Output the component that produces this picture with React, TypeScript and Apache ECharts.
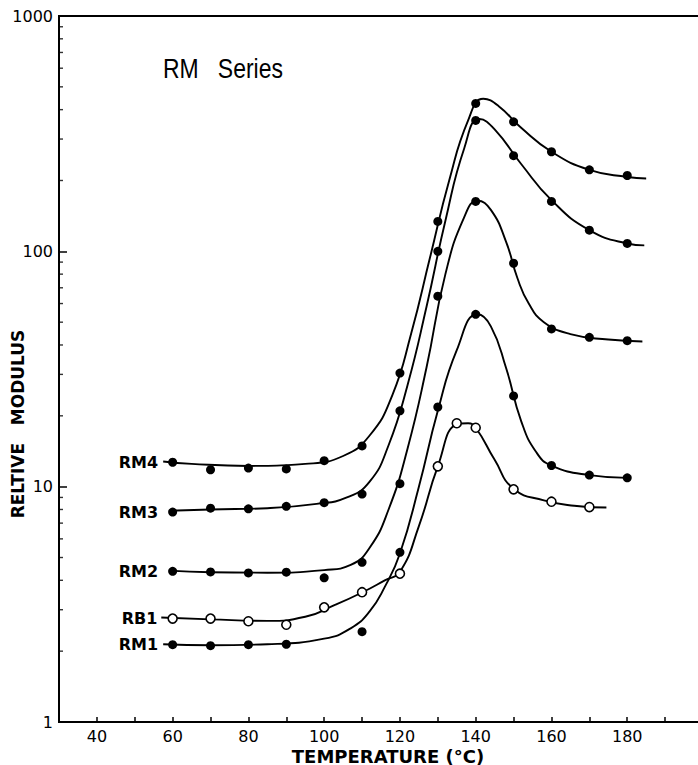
import React, { useEffect, useRef } from "react";
import * as echarts from "echarts";

// ---- data ----
const X_MIN = 30;
const X_MAX = 200;
const Y_MIN = 1;
const Y_MAX = 1000;
const X_LABELS = [40, 60, 80, 100, 120, 140, 160, 180];
const Y_MINOR_TICKS = [2, 3, 4, 5, 6, 7, 8, 9, 20, 30, 40, 50, 60, 70, 80, 90, 200, 300, 400, 500, 600, 700, 800, 900];

const RM4_T = [60, 70, 80, 90, 100, 110, 120, 130, 140, 150, 160, 170, 180];
const RM4_V = [12.7, 11.8, 12.0, 11.9, 12.9, 14.9, 30.4, 134, 425, 355, 265, 222, 210];
const RM3_T = [60, 70, 80, 90, 100, 110, 120, 130, 140, 150, 160, 170, 180];
const RM3_V = [7.8, 8.1, 8.05, 8.25, 8.55, 9.3, 21, 100, 360, 255, 163, 123, 108];
const RM2_T = [60, 70, 80, 90, 100, 110, 120, 130, 140, 150, 160, 170, 180];
const RM2_V = [4.37, 4.34, 4.3, 4.33, 4.1, 4.77, 10.3, 64.5, 163, 89, 46.8, 43.1, 41.7];
const RB1_T = [60, 70, 80, 90, 100, 110, 120, 130, 135, 140, 150, 160, 170];
const RB1_V = [2.75, 2.75, 2.68, 2.59, 3.07, 3.56, 4.27, 12.2, 18.6, 17.8, 9.74, 8.63, 8.19];
const RM1_T = [60, 70, 80, 90, 110, 120, 130, 140, 150, 160, 170, 180];
const RM1_V = [2.13, 2.11, 2.13, 2.14, 2.42, 5.26, 21.8, 54, 24.3, 12.3, 11.2, 10.9];

// hand-drawn smooth curves (temperature, modulus)
const RM4_CURVE = [
  [57.5, 12.8], [65, 12.5], [80, 12.25], [95, 12.5], [105, 13.5], [112, 16.5], [118, 24.5], [123, 45],
  [128, 95], [133, 200], [138, 360], [142, 445], [146, 415], [152, 335], [160, 265], [170, 222],
  [180, 207], [185, 204],
];
const RM3_CURVE = [
  [59, 7.9], [70, 8.0], [85, 8.1], [98, 8.45], [106, 9.0], [112, 10.5], [117, 15], [122, 27],
  [127, 58], [132, 135], [137, 275], [141, 365], [145, 330], [152, 235], [160, 165], [170, 123],
  [180, 108], [184.5, 106],
];
const RM2_CURVE = [
  [59, 4.4], [70, 4.33], [85, 4.31], [100, 4.42], [107, 4.65], [112, 5.5], [117, 8], [122, 14.5],
  [127, 32], [132, 80], [137, 140], [140.5, 164], [144, 150], [148, 110], [151, 77], [154, 60],
  [158, 50], [165, 44.5], [175, 42.2], [184, 41.4],
];
const RB1_CURVE = [
  [57, 2.78], [70, 2.73], [85, 2.69], [95, 2.8], [103, 3.15], [110, 3.55], [116, 4.0], [120, 4.35],
  [125, 6.8], [130, 12.2], [135, 18.4], [138, 18.6], [140, 17.8], [145, 13], [150, 9.8], [158, 8.75],
  [166, 8.3], [174.5, 8.15],
];
const RM1_CURVE = [
  [57.5, 2.14], [70, 2.12], [85, 2.14], [100, 2.26], [107, 2.5], [112, 2.95], [116, 3.75], [120, 5.2],
  [125, 10], [130, 21], [135, 38], [140.5, 54], [144, 48], [148, 32], [152, 19], [156, 14], [160, 12.3],
  [170, 11.2], [180, 10.9],
];

const SERIES = [
  { name: "RM4", t: RM4_T, v: RM4_V, curve: RM4_CURVE, open: false },
  { name: "RM3", t: RM3_T, v: RM3_V, curve: RM3_CURVE, open: false },
  { name: "RM2", t: RM2_T, v: RM2_V, curve: RM2_CURVE, open: false },
  { name: "RB1", t: RB1_T, v: RB1_V, curve: RB1_CURVE, open: true },
  { name: "RM1", t: RM1_T, v: RM1_V, curve: RM1_CURVE, open: false },
];

const TICK_FONT = "DejaVu Sans";

function buildOption() {
  const series: any[] = [];
  SERIES.forEach((s) => {
    series.push({
      type: "line",
      name: s.name + " curve",
      data: s.curve,
      showSymbol: false,
      symbol: "none",
      smooth: 0.5,
      lineStyle: { color: "#000", width: 1.9 },
      silent: true,
      z: 2,
    });
    series.push({
      type: "scatter",
      name: s.name,
      data: s.t.map((t, i) =>
        i === 0
          ? {
              value: [t, s.v[i]],
              label: {
                show: true,
                position: "left",
                distance: 10,
                formatter: s.name,
                color: "#000",
                fontFamily: TICK_FONT,
                fontWeight: "bold",
                fontSize: 16,
              },
            }
          : [t, s.v[i]]
      ),
      symbol: "circle",
      symbolSize: 9,
      itemStyle: s.open
        ? { color: "#fff", borderColor: "#000", borderWidth: 1.6, opacity: 1 }
        : { color: "#000", borderWidth: 0, opacity: 1 },
      silent: true,
      z: 3,
    });
  });
  // minor logarithmic ticks on the y axis
  series.push({
    type: "scatter",
    name: "minor ticks",
    data: Y_MINOR_TICKS.map((v) => [X_MIN, v]),
    symbol: "rect",
    symbolSize: [4, 1.4],
    symbolOffset: [2, 0],
    itemStyle: { color: "#000" },
    silent: true,
    z: 1,
  });

  return {
    animation: false,
    backgroundColor: "#fff",
    grid: {
      left: 59,
      top: 16,
      width: 644,
      bottom: 43,
      outerBoundsMode: "none",
      containLabel: false,
      show: true,
      borderColor: "#000",
      borderWidth: 2,
      backgroundColor: "transparent",
    },
    xAxis: {
      type: "value",
      min: X_MIN,
      max: X_MAX,
      interval: 10,
      axisLine: { show: true, onZero: false, lineStyle: { color: "#000", width: 2 } },
      axisTick: { show: true, inside: true, length: 5, lineStyle: { color: "#000", width: 1.5 } },
      splitLine: { show: false },
      axisLabel: {
        margin: 6,
        color: "#000",
        fontFamily: TICK_FONT,
        fontSize: 16,
        lineHeight: 16,
        formatter: (v: number) => (X_LABELS.indexOf(v) >= 0 ? String(v) : ""),
      },
    },
    yAxis: {
      type: "log",
      logBase: 10,
      min: Y_MIN,
      max: Y_MAX,
      axisLine: { show: true, lineStyle: { color: "#000", width: 2 } },
      axisTick: { show: true, inside: true, length: 8, lineStyle: { color: "#000", width: 1.5 } },
      splitLine: { show: false },
      axisLabel: {
        margin: 6,
        color: "#000",
        fontFamily: TICK_FONT,
        fontSize: 16,
        formatter: (v: number) => String(Math.round(v)),
      },
    },
    graphic: [
      {
        type: "text",
        x: 163,
        y: 68,
        scaleX: 0.82,
        style: {
          text: "RM   Series",
          fill: "#000",
          font: "28px 'Liberation Sans', Arial, sans-serif",
          align: "left",
          verticalAlign: "middle",
        },
      },
      {
        type: "text",
        x: 18,
        y: 424,
        rotation: Math.PI / 2,
        style: {
          text: "RELTIVE   MODULUS",
          fill: "#000",
          font: "bold 17px 'DejaVu Sans', sans-serif",
          align: "center",
          verticalAlign: "middle",
        },
      },
      {
        type: "text",
        x: 388,
        y: 756,
        style: {
          text: "TEMPERATURE (°C)",
          fill: "#000",
          font: "bold 18px 'DejaVu Sans', sans-serif",
          lineHeight: 18,
          align: "center",
          verticalAlign: "middle",
        },
      },
    ],
    series,
  };
}

export default function App() {
  const ref = useRef<HTMLDivElement>(null);
  useEffect(() => {
    if (!ref.current) return;
    const chart = echarts.init(ref.current, null, { renderer: "svg" });
    chart.setOption(buildOption() as any);
    return () => chart.dispose();
  }, []);
  return (
    <div
      ref={ref}
      style={{ position: "absolute", left: 0, top: 0, width: 698, height: 765, background: "#fff", overflow: "hidden" }}
    />
  );
}
